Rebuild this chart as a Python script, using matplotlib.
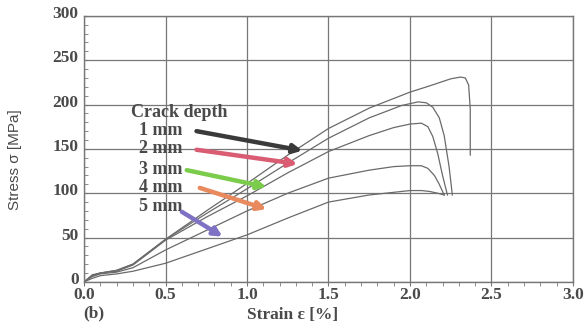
import matplotlib.pyplot as plt
from matplotlib.ticker import MultipleLocator
from matplotlib.transforms import ScaledTranslation

# stress-strain curves for each crack depth
strain_1 = [0, 0.05, 0.1, 0.2, 0.3, 0.5, 0.75, 1.0, 1.25, 1.5, 1.75, 2.0, 2.12, 2.25, 2.31, 2.34, 2.36, 2.37, 2.37]
stress_1 = [0, 8, 10, 13, 20, 48, 80, 111, 143, 173, 196, 214, 221, 229, 231, 230, 222, 195, 143]

strain_2 = [0, 0.05, 0.1, 0.2, 0.3, 0.5, 0.75, 1.0, 1.25, 1.5, 1.75, 1.95, 2.05, 2.1, 2.14, 2.18, 2.21, 2.24, 2.26]
stress_2 = [0, 7, 10, 13, 20, 48, 77, 105, 134, 162, 185, 199, 203, 202, 197, 185, 165, 130, 98]

strain_3 = [0, 0.05, 0.1, 0.2, 0.3, 0.5, 0.75, 1.0, 1.25, 1.5, 1.75, 1.9, 2.0, 2.07, 2.11, 2.14, 2.17, 2.2, 2.23]
stress_3 = [0, 7, 10, 12, 19, 47, 73, 97, 123, 147, 165, 174, 178, 179, 175, 164, 145, 120, 98]

strain_4 = [0, 0.05, 0.1, 0.2, 0.3, 0.5, 0.75, 1.0, 1.25, 1.5, 1.75, 1.9, 2.0, 2.07, 2.11, 2.15, 2.18, 2.21]
stress_4 = [0, 6, 9, 11, 16, 36, 58, 80, 100, 117, 126, 130, 131, 131, 128, 120, 110, 98]

strain_5 = [0, 0.05, 0.1, 0.2, 0.3, 0.5, 0.75, 1.0, 1.25, 1.5, 1.75, 1.9, 2.0, 2.07, 2.12, 2.17, 2.21]
stress_5 = [0, 4, 7, 9, 12, 21, 37, 53, 72, 90, 98, 101, 103, 103, 102, 100, 98]

depth_labels = ["1 mm", "2 mm", "3 mm", "4 mm", "5 mm"]
arrow_colors = ["#3a3a3a", "#d95c72", "#7ccc4c", "#e8895e", "#7f72c4"]
# arrow tail (strain, stress) and head (strain, stress)
arrow_tails = [(0.69, 170), (0.69, 149), (0.63, 126), (0.71, 106), (0.60, 79)]
arrow_heads = [(1.34, 148), (1.31, 133), (1.12, 107), (1.12, 82), (0.85, 51)]
label_y = [171, 150, 127, 106, 85]

serif = ["Liberation Serif", "DejaVu Serif"]
ink = "#4a4a4a"

fig = plt.figure(figsize=(5.84, 3.24), dpi=100)
ax = fig.add_axes([0.144, 0.130, 0.837, 0.821])

for sx, sy in [(strain_1, stress_1), (strain_2, stress_2), (strain_3, stress_3),
               (strain_4, stress_4), (strain_5, stress_5)]:
    ax.plot(sx, sy, color="#6a6a6a", lw=0.9)

ax.text(0.29, 191, "Crack depth", family=serif, fontweight="bold",
        fontsize=13, color=ink, va="center")
for lab, y in zip(depth_labels, label_y):
    ax.text(0.34, y, lab, family=serif, fontweight="bold",
            fontsize=13, color=ink, va="center")

for (tx, ty), (hx, hy), c in zip(arrow_tails, arrow_heads, arrow_colors):
    ax.annotate("", xy=(hx, hy), xytext=(tx, ty),
                arrowprops=dict(arrowstyle="-|>,head_length=0.5,head_width=0.25",
                                color=c, lw=3.2, shrinkA=0, shrinkB=0))

ax.set_xlim(0, 3.0)
ax.set_ylim(0, 300)
ax.xaxis.set_major_locator(MultipleLocator(0.5))
ax.xaxis.set_minor_locator(MultipleLocator(0.1))
ax.yaxis.set_major_locator(MultipleLocator(50))
ax.yaxis.set_minor_locator(MultipleLocator(10))
ax.grid(True, which="major", color="#777777", lw=0.9)
ax.tick_params(axis="x", which="both", direction="out", length=3, color="#777777", pad=0.5)
ax.tick_params(axis="y", which="both", direction="in", length=3, color="#777777", pad=4)
ax.set_xticklabels([f"{v:.1f}" for v in ax.get_xticks()])

for lbl in ax.get_xticklabels() + ax.get_yticklabels():
    lbl.set_family(serif)
    lbl.set_fontweight("bold")
    lbl.set_fontsize(12.5)
    lbl.set_color(ink)

# y numbers sit slightly above their gridlines
lift = ScaledTranslation(0, 4 / 100, fig.dpi_scale_trans)
for tick in ax.yaxis.get_major_ticks():
    tick.label1.set_transform(tick.label1.get_transform() + lift)

for sp in ax.spines.values():
    sp.set_color("#777777")
    sp.set_linewidth(1.0)

ax.text(1.28, -37, "Strain ε [%]", family=serif, fontweight="bold", fontsize=12.5,
        color=ink, ha="center", va="center")
ax.set_ylabel("Stress σ [MPa]", fontsize=11, color=ink,
              family=["Liberation Sans", "DejaVu Sans"])
ax.yaxis.set_label_coords(-0.128, 0.46)
fig.text(0.142, 0.032, "(b)", family=serif, fontweight="bold", fontsize=12.5,
         color=ink, va="center")

fig.savefig("out.png", dpi=100)
